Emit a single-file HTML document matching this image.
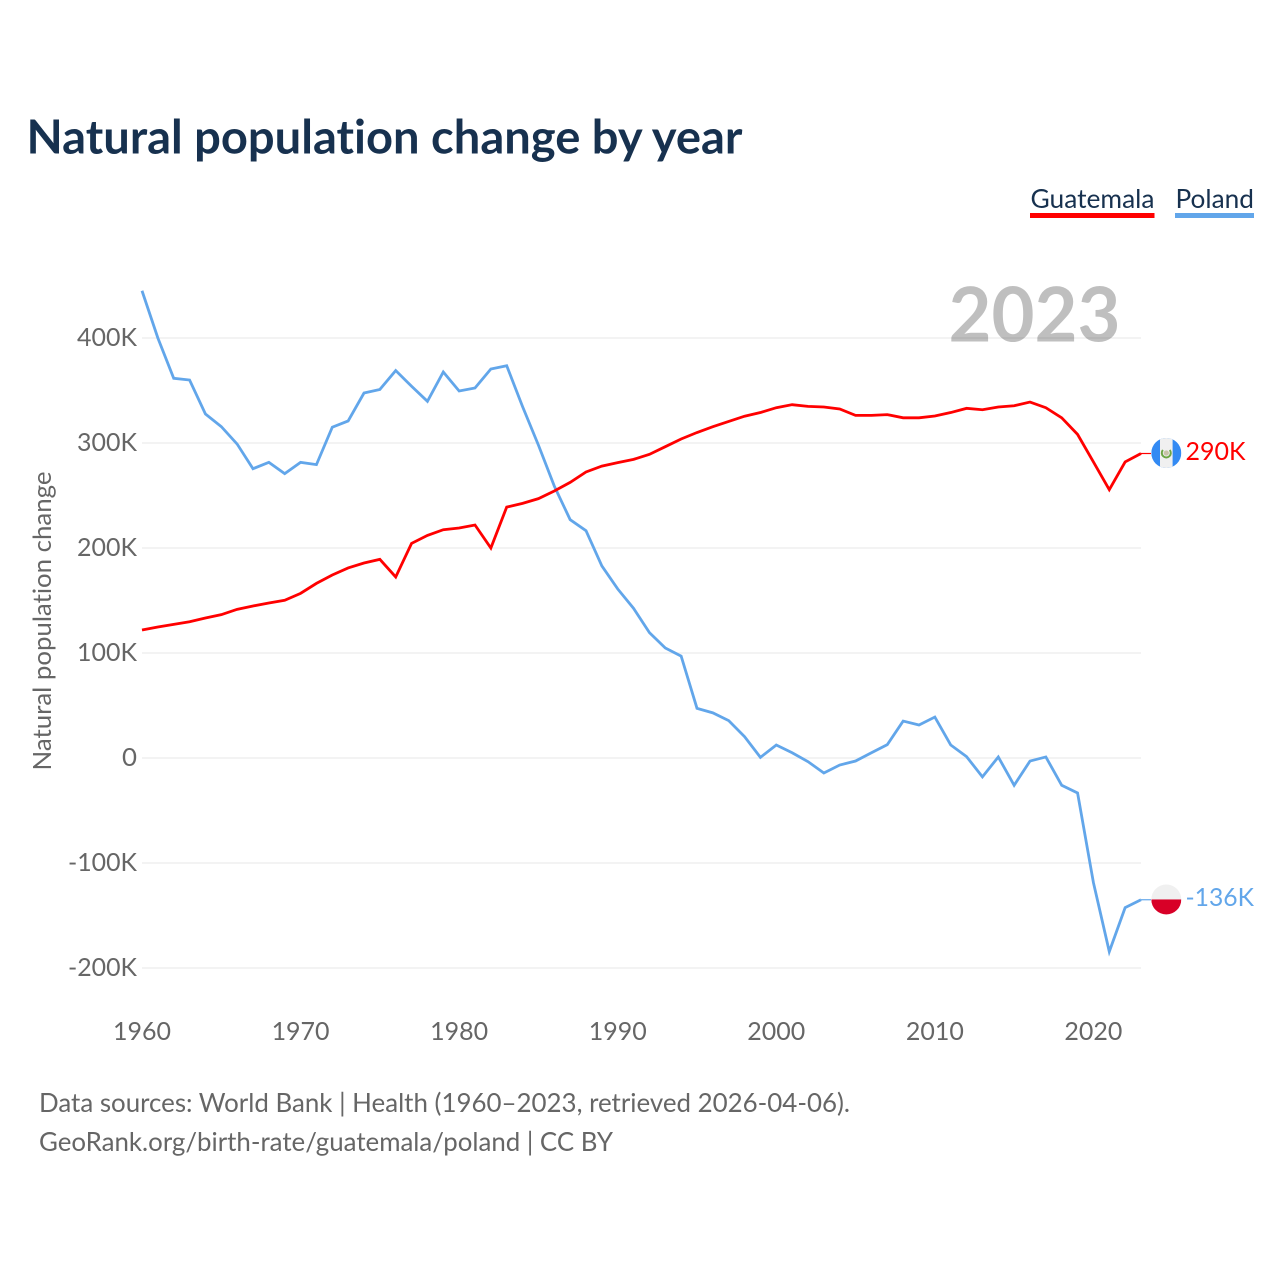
<!DOCTYPE html>
<html lang="en">
<head>
<meta charset="utf-8">
<title>Natural population change by year</title>
<style>
  html, body { margin: 0; padding: 0; background: #ffffff; }
  #stage { position: relative; width: 1280px; height: 1280px; overflow: hidden; }
  svg { display: block; font-family: Lato, Carlito, "Liberation Sans", sans-serif; font-variant-ligatures: none; font-feature-settings: "liga" 0, "dlig" 0; }
  .tick { fill: #666666; font-size: 25px; }
  .foot { fill: #666666; font-size: 26.5px; }
</style>
</head>
<body>
<div id="stage">
<svg id="chart" width="1280" height="1280" viewBox="0 0 1280 1280">
  <text x="26.5" y="153.5" font-size="47" font-weight="700" fill="#17314f" textLength="716" lengthAdjust="spacingAndGlyphs">Natural population change by year</text>

  <g>
    <text x="1030.5" y="208" font-size="26.5" fill="#17314f" textLength="124" lengthAdjust="spacingAndGlyphs">Guatemala</text>
    <rect x="1030" y="213" width="124.5" height="5" fill="#ff0000"></rect>
  </g>
  <g>
    <text x="1175.5" y="208" font-size="26.5" fill="#17314f" textLength="78.5" lengthAdjust="spacingAndGlyphs">Poland</text>
    <rect x="1175" y="213" width="79" height="5" fill="#62a6ea"></rect>
  </g>

  <g id="grid"></g>
  <g id="yticks"></g>
  <g id="xticks"></g>

  <text x="948.5" y="341.5" font-size="76" font-weight="700" fill="#000000" fill-opacity="0.25" textLength="172" lengthAdjust="spacingAndGlyphs">2023</text>

  <text transform="translate(51 621) rotate(-90)" text-anchor="middle" font-size="25.5" fill="#666666" textLength="299" lengthAdjust="spacingAndGlyphs">Natural population change</text>

  <g id="series"></g>

  <defs>
    <clipPath id="flag-clip-gt"><circle id="gt-clip-circle" cx="1166.3" cy="453" r="15"></circle></clipPath>
    <clipPath id="flag-clip-pl"><circle id="pl-clip-circle" cx="1166.3" cy="900" r="15"></circle></clipPath>
  </defs>
  <g id="flag-guatemala"></g>
  <g id="flag-poland"></g>
  <g id="end-labels"></g>

  <text class="foot" x="39" y="1112" textLength="811" lengthAdjust="spacingAndGlyphs">Data sources: World Bank | Health (1960–2023, retrieved 2026-04-06).</text>
  <text class="foot" x="39" y="1151" textLength="574" lengthAdjust="spacingAndGlyphs">GeoRank.org/birth-rate/guatemala/poland | CC BY</text>
</svg>
</div>

<script>
const years = [1960,1961,1962,1963,1964,1965,1966,1967,1968,1969,1970,1971,1972,1973,1974,1975,1976,1977,1978,1979,1980,1981,1982,1983,1984,1985,1986,1987,1988,1989,1990,1991,1992,1993,1994,1995,1996,1997,1998,1999,2000,2001,2002,2003,2004,2005,2006,2007,2008,2009,2010,2011,2012,2013,2014,2015,2016,2017,2018,2019,2020,2021,2022,2023];
const guatemalaValues = [121.9,124.8,127.3,129.8,133.3,136.5,141.6,144.8,147.6,150.2,156.8,166.3,174.3,181,185.7,189.2,172.4,204.4,212,217.4,219,221.9,200,239,242.5,247,254.3,262.5,272.4,278,281.3,284.4,289.2,296.5,303.8,310,315.5,320.5,325.5,329,333.6,336.5,334.9,334.3,332.4,326.3,326.3,327,324,324,325.7,329,333,331.7,334.3,335.5,339,333.6,324,308.2,282,255.5,282,290];
const polandValues = [445,400,361.6,360,327.6,315.6,299,275.5,281.6,270.8,281.6,279.4,315,321,347.6,351,369,354,339.7,367.6,349.5,352.4,370.5,373.6,334.6,298,259,227,216.5,182.9,161,142.5,119.4,104.8,97,47.3,43,35.6,20.3,0.6,12.4,5,-3.5,-14.3,-6.7,-2.9,5,12.7,35.2,31.4,39,12.4,1.3,-18,1,-26,-2.9,1,-26,-33.3,-118.7,-184.4,-142.5,-135];
const yTickValues = [400,300,200,100,0,-100,-200];
const yTickLabels = ["400K","300K","200K","100K","0","-100K","-200K"];
const xTickValues = [1960,1970,1980,1990,2000,2010,2020];
const endLabelGuatemala = "290K";
const endLabelPoland = "-136K";

const NS = "http://www.w3.org/2000/svg";
const xScale = function (year) { return 142 + (year - 1960) * (999 / 63); };
const yScale = function (value) { return 758 - value * 1.05; };

function make(tag, parent, attrs, text) {
  const el = document.createElementNS(NS, tag);
  Object.keys(attrs).forEach(function (k) { el.setAttribute(k, attrs[k]); });
  if (text !== undefined) el.textContent = text;
  parent.appendChild(el);
  return el;
}

const gridGroup = document.getElementById("grid");
const yGroup = document.getElementById("yticks");
const yLabelWidths = [60, 60, 60, 60, 15, 69, 69];
yTickValues.forEach(function (v, i) {
  const line = make("line", gridGroup, { x1: 142, x2: 1141, y1: yScale(v), y2: yScale(v), stroke: "#efefef", "stroke-width": 1.6 });
  
  
  const label = make("text", yGroup, { class: "tick", x: 137, y: yScale(v) + 8, "text-anchor": "end", textLength: yLabelWidths[i], lengthAdjust: "spacingAndGlyphs" }, yTickLabels[i]);
  
  
});

const xGroup = document.getElementById("xticks");
xTickValues.forEach(function (yr) {
  const label = make("text", xGroup, { class: "tick", x: xScale(yr), y: 1040, "text-anchor": "middle", textLength: 58, lengthAdjust: "spacingAndGlyphs" }, String(yr));
  
  
});

function pathFor(values) {
  return values.map(function (v, i) {
    return (i ? "L" : "M") + xScale(years[i]).toFixed(2) + " " + yScale(v).toFixed(2);
  }).join(" ");
}

const seriesGroup = document.getElementById("series");
const lastG = guatemalaValues[guatemalaValues.length - 1];
const lastP = polandValues[polandValues.length - 1];
const lastX = xScale(years[years.length - 1]);

const polandLine = make("path", seriesGroup, { d: pathFor(polandValues), fill: "none", stroke: "#62a6ea", "stroke-width": 2.8, "stroke-linejoin": "miter" });


const guatemalaLine = make("path", seriesGroup, { d: pathFor(guatemalaValues), fill: "none", stroke: "#ff0000", "stroke-width": 2.8, "stroke-linejoin": "miter" });



const gLeader = make("line", seriesGroup, { x1: lastX, x2: lastX + 10, y1: yScale(lastG), y2: yScale(lastG), stroke: "#ff0000", "stroke-width": 1.2 });


const pLeader = make("line", seriesGroup, { x1: lastX, x2: lastX + 10, y1: yScale(lastP), y2: yScale(lastP), stroke: "#62a6ea", "stroke-width": 1.2 });



const flagX = 1166.3;
const gy = yScale(lastG) - 0.5;
const py = yScale(lastP) - 0.3;
document.getElementById("gt-clip-circle").setAttribute("cy", gy);
document.getElementById("pl-clip-circle").setAttribute("cy", py);

const gtFlag = document.getElementById("flag-guatemala");
const gtBase = make("rect", gtFlag, { x: flagX - 15, y: gy - 15, width: 30, height: 30, fill: "#338af3", "clip-path": "url(#flag-clip-gt)" });


const gtMid = make("rect", gtFlag, { x: flagX - 6.3, y: gy - 15, width: 12.6, height: 30, fill: "#f0f0f0", "clip-path": "url(#flag-clip-gt)" });


const gtShield = make("circle", gtFlag, { cx: flagX, cy: gy, r: 2.6, fill: "#c9c2a8" });


const gtWreath = make("path", gtFlag, { d: "M" + (flagX - 3.4) + " " + (gy - 3) + " A4.5 4.5 0 1 0 " + (flagX + 3.4) + " " + (gy - 3), fill: "none", stroke: "#6da544", "stroke-width": 2 });



const plFlag = document.getElementById("flag-poland");
const plTop = make("rect", plFlag, { x: flagX - 15, y: py - 15, width: 30, height: 15, fill: "#f0f0f0", "clip-path": "url(#flag-clip-pl)" });


const plBottom = make("rect", plFlag, { x: flagX - 15, y: py, width: 30, height: 15, fill: "#d80027", "clip-path": "url(#flag-clip-pl)" });



const endGroup = document.getElementById("end-labels");
const gLabel = make("text", endGroup, { x: 1185.5, y: yScale(lastG) + 6.5, "font-size": 25.5, fill: "#ff0000", textLength: 60, lengthAdjust: "spacingAndGlyphs" }, endLabelGuatemala);


const pLabel = make("text", endGroup, { x: 1185.5, y: yScale(lastP) + 6, "font-size": 25.5, fill: "#62a6ea", textLength: 68.5, lengthAdjust: "spacingAndGlyphs" }, endLabelPoland);


</script>
</body>
</html>
